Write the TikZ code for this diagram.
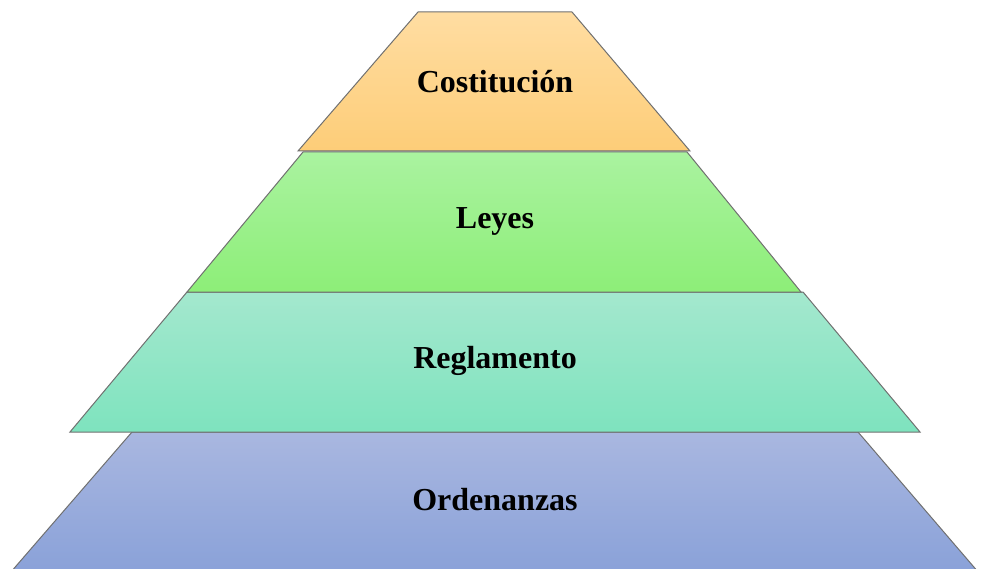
\documentclass[tikz,border=0pt]{standalone}
\usepackage{fontspec}
\setmainfont{Liberation Serif}
\definecolor{ltop}{HTML}{FFDDA2}
\definecolor{lbot}{HTML}{FDCD78}
\definecolor{gtop}{HTML}{AAF3A0}
\definecolor{gbot}{HTML}{8DEE78}
\definecolor{ttop}{HTML}{A4E8CE}
\definecolor{tbot}{HTML}{7EE3BE}
\definecolor{btop}{HTML}{A9B7E0}
\definecolor{bbot}{HTML}{88A0D8}
\definecolor{edge}{HTML}{707070}
\begin{document}
\begin{tikzpicture}[x=1pt,y=-1pt,
  layer/.style={draw=edge,line width=1pt,line join=miter},
  lbl/.style={font=\fontsize{32}{36}\selectfont\bfseries,text=black,inner sep=0pt}]
\useasboundingbox (0,0) rectangle (981,569);
\begin{scope}
\clip (0,0) rectangle (981,569);
% Ordenanzas
\shade[layer,top color=btop,bottom color=bbot] (132,432) -- (858,432) -- (985,580) -- (4,580) -- cycle;
\end{scope}
% Reglamento
\shade[layer,top color=ttop,bottom color=tbot] (187,292) -- (803,292) -- (920,432) -- (70,432) -- cycle;
% Leyes
\shade[layer,top color=gtop,bottom color=gbot] (303,152) -- (687,152) -- (801,292) -- (187,292) -- cycle;
% Costitucion
\shade[layer,top color=ltop,bottom color=lbot] (418,12) -- (572,12) -- (690,151) -- (298,151) -- cycle;
\node[lbl] (c) at (495,82) {Costitución};
\node[lbl] (l) at (495,221) {Leyes};
\node[lbl] (r) at (495,361) {Reglamento};
\node[lbl] (o) at (495,500) {Ordenanzas};
\end{tikzpicture}
\end{document}
